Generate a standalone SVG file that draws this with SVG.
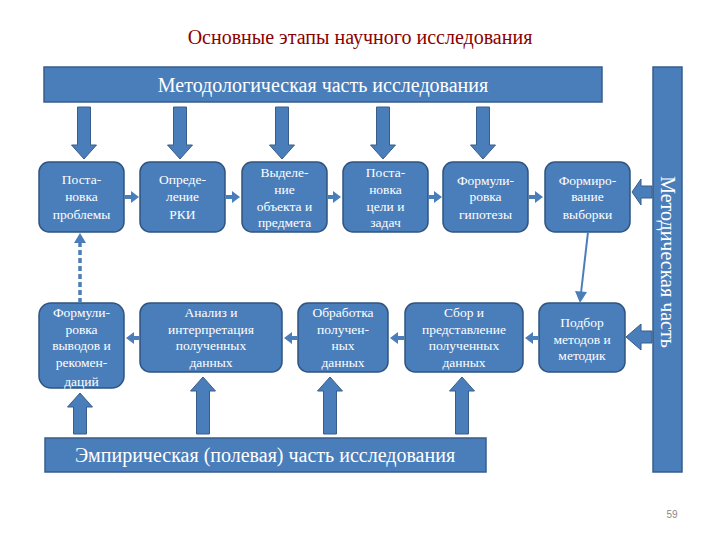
<svg xmlns="http://www.w3.org/2000/svg" xmlns:xlink="http://www.w3.org/1999/xlink" width="720" height="540" viewBox="0 0 720 540">
<style>
.bar{fill:#4a7ebb;stroke:#385d8a;stroke-width:1.5}
.box{fill:#4a7ebb;stroke:#2f5480;stroke-width:1.5}
.blk{fill:#4a7ebb;stroke:#385d8a;stroke-width:1}
.t{font-family:"Liberation Serif","Times New Roman",serif;fill:#fff;text-anchor:middle}
.s{font-size:13.5px}
.b{font-size:20px}
.title{font-family:"Liberation Serif","Times New Roman",serif;font-size:20px;fill:#8b0000;text-anchor:middle}
.pg{font-family:"Liberation Sans",Arial,sans-serif;font-size:10px;fill:#888;text-anchor:middle}
.dash{stroke:#4a7ebb;stroke-width:3.5;stroke-dasharray:5 3;fill:none}
.thin{stroke:#4a7ebb;stroke-width:2;fill:none}
.head{fill:#4a7ebb}
</style>
<defs>
<path id="down" d="M-6.5,107 H6.5 V145 H12.5 L0,159 L-12.5,145 H-6.5 Z"/>
<path id="up" d="M-6.5,434 V391 H-12.5 L0,377 L12.5,391 H6.5 V434 Z"/>
<path id="chevR" d="M-8,-2 H-2 V-6 L6,0 L-2,6 V2 H-8 Z"/>
<path id="chevL" d="M8,-2 H2 V-6 L-6,0 L2,6 V2 H8 Z"/>
</defs>

<text class="title" x="360" y="44">Основные этапы научного исследования</text>

<g id="top-bar">
<rect class="bar" x="44" y="67" width="558" height="35"/>
<text class="t b" x="323" y="92">Методологическая часть исследования</text>
</g>

<g id="right-bar">
<rect class="bar" x="653" y="67" width="29" height="405"/>
<text class="t b" transform="translate(661,262) rotate(90)">Методическая часть</text>
</g>

<g id="bottom-bar">
<rect class="bar" x="45" y="438" width="441" height="34"/>
<text class="t b" x="265" y="462">Эмпирическая (полевая) часть исследования</text>
</g>

<g id="n1">
<rect class="box" x="39" y="162" width="85" height="70" rx="10"/>
<text class="t s" x="81.5" y="184">Поста-</text>
<text class="t s" x="81.5" y="201">новка</text>
<text class="t s" x="81.5" y="219">проблемы</text>
</g>
<g id="n2">
<rect class="box" x="140" y="162" width="85" height="70" rx="10"/>
<text class="t s" x="182.5" y="184">Опреде-</text>
<text class="t s" x="182.5" y="201">ление</text>
<text class="t s" x="182.5" y="219">РКИ</text>
</g>
<g id="n3">
<rect class="box" x="242" y="162" width="85" height="70" rx="10"/>
<text class="t s" x="284.5" y="177">Выделе-</text>
<text class="t s" x="284.5" y="194">ние</text>
<text class="t s" x="284.5" y="211">объекта и</text>
<text class="t s" x="284.5" y="227">предмета</text>
</g>
<g id="n4">
<rect class="box" x="343" y="162" width="85" height="70" rx="10"/>
<text class="t s" x="385.5" y="177">Поста-</text>
<text class="t s" x="385.5" y="194">новка</text>
<text class="t s" x="385.5" y="211">цели и</text>
<text class="t s" x="385.5" y="227">задач</text>
</g>
<g id="n5">
<rect class="box" x="443" y="162" width="85" height="70" rx="10"/>
<text class="t s" x="485.5" y="185">Формули-</text>
<text class="t s" x="485.5" y="201">ровка</text>
<text class="t s" x="485.5" y="219">гипотезы</text>
</g>
<g id="n6">
<rect class="box" x="545" y="162" width="85" height="70" rx="10"/>
<text class="t s" x="587.5" y="185">Формиро-</text>
<text class="t s" x="587.5" y="201">вание</text>
<text class="t s" x="587.5" y="219">выборки</text>
</g>

<g id="nA">
<rect class="box" x="39" y="303" width="85" height="85" rx="12"/>
<text class="t s" x="81.5" y="317">Формули-</text>
<text class="t s" x="81.5" y="334">ровка</text>
<text class="t s" x="81.5" y="350">выводов и</text>
<text class="t s" x="81.5" y="367">рекомен-</text>
<text class="t s" x="81.5" y="386">даций</text>
</g>
<g id="nB">
<rect class="box" x="140" y="303" width="142" height="69" rx="10"/>
<text class="t s" x="211" y="317">Анализ и</text>
<text class="t s" x="211" y="334">интерпретация</text>
<text class="t s" x="211" y="350">полученных</text>
<text class="t s" x="211" y="367">данных</text>
</g>
<g id="nC">
<rect class="box" x="298" y="303" width="90" height="69" rx="10"/>
<text class="t s" x="343" y="317">Обработка</text>
<text class="t s" x="343" y="334">получен-</text>
<text class="t s" x="343" y="350">ных</text>
<text class="t s" x="343" y="367">данных</text>
</g>
<g id="nD">
<rect class="box" x="405" y="303" width="118" height="69" rx="10"/>
<text class="t s" x="464" y="317">Сбор и</text>
<text class="t s" x="464" y="334">представление</text>
<text class="t s" x="464" y="350">полученных</text>
<text class="t s" x="464" y="367">данных</text>
</g>
<g id="nE">
<rect class="box" x="539" y="303" width="86" height="69" rx="10"/>
<text class="t s" x="582" y="327">Подбор</text>
<text class="t s" x="582" y="344">методов и</text>
<text class="t s" x="582" y="360">методик</text>
</g>

<g id="connectors">
<use href="#down" class="blk" x="84"/>
<use href="#down" class="blk" x="180"/>
<use href="#down" class="blk" x="282"/>
<use href="#down" class="blk" x="383"/>
<use href="#down" class="blk" x="483"/>

<use href="#up" class="blk" x="203"/>
<use href="#up" class="blk" x="330"/>
<use href="#up" class="blk" x="462"/>
<path class="blk" d="M73.5,434 V407 H67.5 L80,393 L92.5,407 H86.5 V434 Z"/>

<path class="blk" d="M652,186 H641 V179 L632,192 L641,205 V198 H652 Z"/>
<path class="blk" d="M652,331 H641 V324 L626,337 L641,350 V343 H652 Z"/>

<use href="#chevR" class="head" x="133" y="197"/>
<use href="#chevR" class="head" x="234" y="197"/>
<use href="#chevR" class="head" x="335" y="197"/>
<use href="#chevR" class="head" x="436" y="197"/>
<use href="#chevR" class="head" x="537" y="197"/>

<use href="#chevL" class="head" x="132" y="338"/>
<use href="#chevL" class="head" x="290" y="338"/>
<use href="#chevL" class="head" x="396" y="338"/>
<use href="#chevL" class="head" x="531" y="338"/>

<line class="dash" x1="80" y1="303" x2="80" y2="242"/>
<path class="head" d="M74,243 L80,233 L86,243 Z"/>

<line class="thin" x1="588" y1="232" x2="581" y2="293"/>
<path class="head" d="M575,291 L580,303 L587,292 Z"/>
</g>

<text class="pg" x="672" y="518">59</text>
</svg>
